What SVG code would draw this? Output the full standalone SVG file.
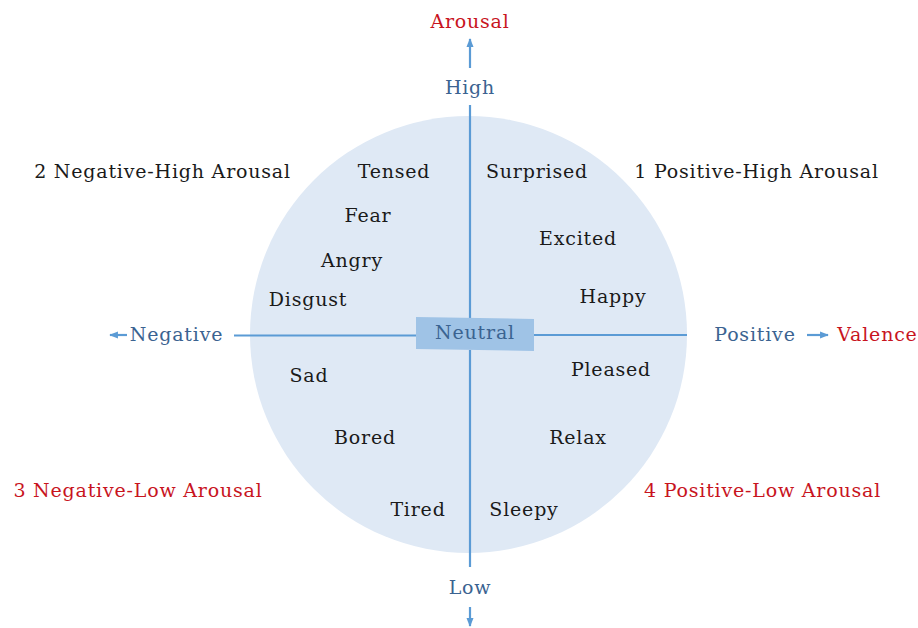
<svg xmlns="http://www.w3.org/2000/svg" width="918" height="628" viewBox="0 0 918 628">
<defs>
<marker id="ah" viewBox="0 0 10 10" refX="9" refY="5" markerWidth="4" markerHeight="4" orient="auto" markerUnits="strokeWidth">
<path d="M0,1 L10,5 L0,9 Z" fill="#5b9bd5"/>
</marker>
<style>
text{font-family:"DejaVu Serif","Liberation Serif",serif;font-size:19px;letter-spacing:0.8px;text-anchor:middle}
.k{fill:#1a1a1a}
.b{fill:#3b6391}
.r{fill:#c8141e}
.ax{stroke:#5b9bd5;stroke-width:2.2;fill:none}
</style>
</defs>
<rect width="918" height="628" fill="#ffffff"/>
<circle id="circle" cx="468.5" cy="334.5" r="218.5" fill="#dfe9f5"/>
<g id="connectors">
<line class="ax" x1="470" y1="105" x2="470" y2="318"/>
<line class="ax" x1="470" y1="350" x2="470" y2="567"/>
<line class="ax" x1="234" y1="335.5" x2="416" y2="335.5"/>
<line class="ax" x1="534" y1="335" x2="687" y2="335"/>
<line class="ax" x1="470" y1="68" x2="470" y2="39" marker-end="url(#ah)"/>
<line class="ax" x1="470" y1="607" x2="470" y2="626" marker-end="url(#ah)"/>
<line class="ax" x1="127" y1="335" x2="110" y2="335" marker-end="url(#ah)"/>
<line class="ax" x1="807" y1="335" x2="828" y2="335" marker-end="url(#ah)"/>
</g>
<g id="neutral">
<polygon points="416,317 534,319 534,351 416,349" fill="#9fc3e6"/>
<text class="b" x="475" y="339">Neutral</text>
</g>
<g id="axis-labels">
<text class="r" x="470" y="28">Arousal</text>
<text class="b" x="470" y="94">High</text>
<text class="b" x="470" y="594">Low</text>
<text class="b" x="176.5" y="341">Negative</text>
<text class="b" x="755" y="341">Positive</text>
<text class="r" x="877.5" y="341">Valence</text>
</g>
<g id="quadrants">
<text class="k" x="162.5" y="178">2 Negative-High Arousal</text>
<text class="k" x="756.5" y="178">1 Positive-High Arousal</text>
<text class="r" x="138" y="497">3 Negative-Low Arousal</text>
<text class="r" x="762.5" y="497">4 Positive-Low Arousal</text>
</g>
<g id="emotions">
<text class="k" x="394" y="178">Tensed</text>
<text class="k" x="537" y="178">Surprised</text>
<text class="k" x="368" y="222">Fear</text>
<text class="k" x="578" y="245">Excited</text>
<text class="k" x="352" y="267">Angry</text>
<text class="k" x="613" y="303">Happy</text>
<text class="k" x="308" y="306">Disgust</text>
<text class="k" x="309" y="382">Sad</text>
<text class="k" x="611" y="376">Pleased</text>
<text class="k" x="365" y="444">Bored</text>
<text class="k" x="578" y="444">Relax</text>
<text class="k" x="418" y="516">Tired</text>
<text class="k" x="524" y="516">Sleepy</text>
</g>
</svg>
